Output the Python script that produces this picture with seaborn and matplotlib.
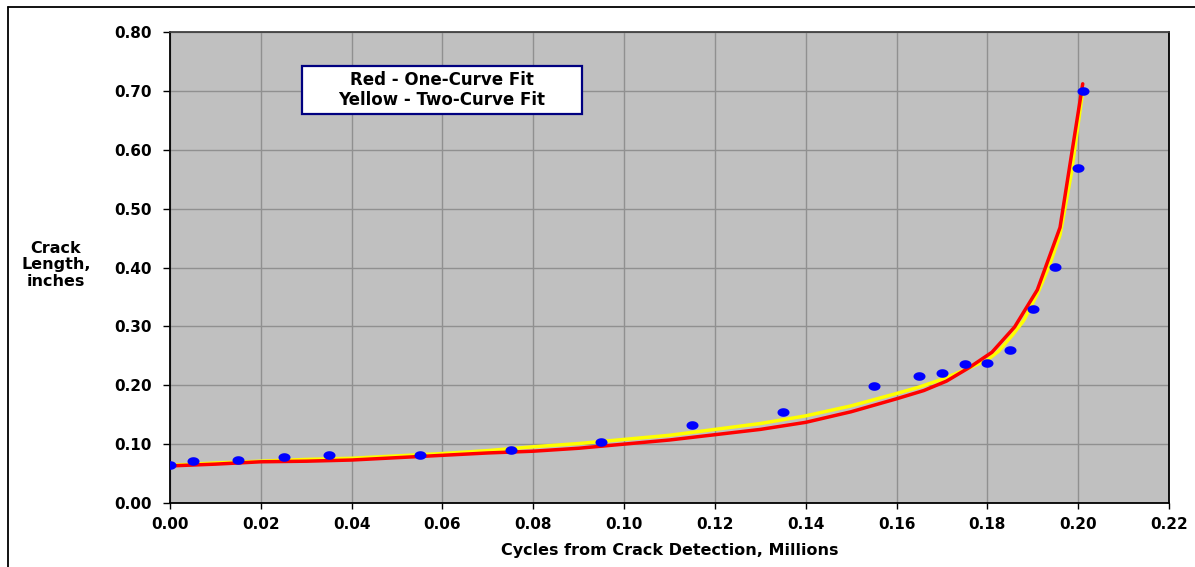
import numpy as np
import pandas as pd
import seaborn as sns
import matplotlib
matplotlib.use("Agg")
import matplotlib.pyplot as plt
from matplotlib.path import Path
from matplotlib.lines import Line2D
from matplotlib.patches import Rectangle

# ---- data ----
obs_cycles = [0.000, 0.005, 0.015, 0.025, 0.035, 0.055, 0.075, 0.095, 0.115, 0.135,
              0.155, 0.165, 0.170, 0.175, 0.180, 0.185, 0.190, 0.195, 0.200, 0.201]
obs_length = [0.064, 0.071, 0.073, 0.078, 0.081, 0.081, 0.090, 0.104, 0.133, 0.155,
              0.198, 0.216, 0.220, 0.236, 0.238, 0.260, 0.330, 0.401, 0.569, 0.700]

red_cycles = [0.000, 0.010, 0.020, 0.030, 0.040, 0.050, 0.060, 0.070, 0.080, 0.090,
              0.100, 0.110, 0.120, 0.130, 0.140, 0.150, 0.160, 0.166, 0.171, 0.176,
              0.181, 0.186, 0.191, 0.196, 0.201]
red_length = [0.063, 0.066, 0.070, 0.071, 0.073, 0.077, 0.081, 0.085, 0.088, 0.093,
              0.100, 0.107, 0.116, 0.125, 0.137, 0.155, 0.177, 0.191, 0.207, 0.230,
              0.256, 0.299, 0.362, 0.468, 0.712]

yel_cycles = [0.000, 0.010, 0.020, 0.030, 0.040, 0.050, 0.060, 0.070, 0.080, 0.090,
              0.100, 0.110, 0.120, 0.130, 0.140, 0.150, 0.160, 0.165, 0.170, 0.175,
              0.180, 0.1825, 0.1855, 0.188, 0.191, 0.1935, 0.196, 0.1985, 0.201]
yel_length = [0.064, 0.068, 0.071, 0.074, 0.076, 0.080, 0.084, 0.089, 0.0955, 0.101,
              0.108, 0.115, 0.125, 0.135, 0.148, 0.165, 0.186, 0.197, 0.210, 0.226,
              0.243, 0.258, 0.285, 0.310, 0.355, 0.400, 0.455, 0.560, 0.700]

x_ticks = [0.00, 0.02, 0.04, 0.06, 0.08, 0.10, 0.12, 0.14, 0.16, 0.18, 0.20, 0.22]
y_ticks = [0.00, 0.10, 0.20, 0.30, 0.40, 0.50, 0.60, 0.70, 0.80]

legend_lines = ["Red - One-Curve Fit", "Yellow - Two-Curve Fit"]
x_title = "Cycles from Crack Detection, Millions"
y_title = "Crack\nLength,\ninches"

# ---- style ----
sns.set_theme(style="white")
plt.rcParams['font.family'] = ['DejaVu Sans']
plt.rcParams['font.weight'] = 'bold'
plt.rcParams['text.color'] = 'black'
plt.rcParams['xtick.color'] = 'black'
plt.rcParams['ytick.color'] = 'black'
plt.rcParams['axes.labelcolor'] = 'black'
FS = 11

W, H = 1195, 567
fig = plt.figure(figsize=(W / 100, H / 100), dpi=100)
fig.patch.set_facecolor("white")
ax = fig.add_axes([170 / W, 1 - 503 / H, (1169 - 170) / W, (503 - 32) / H])
ax.set_facecolor("#C0C0C0")

df_red = pd.DataFrame({"x": red_cycles, "y": red_length})
df_yel = pd.DataFrame({"x": yel_cycles, "y": yel_length})
df_obs = pd.DataFrame({"x": obs_cycles, "y": obs_length})

sns.lineplot(data=df_yel, x="x", y="y", ax=ax, color="#FFFF00", lw=2.5,
             sort=False, estimator=None, zorder=3)
sns.lineplot(data=df_red, x="x", y="y", ax=ax, color="#FF0000", lw=2.5,
             sort=False, estimator=None, zorder=4)

t = np.linspace(0, 2 * np.pi, 40)
ellipse = Path(np.column_stack([1.4 * np.cos(t), np.sin(t)]))
sns.scatterplot(data=df_obs, x="x", y="y", ax=ax, marker=ellipse, s=75,
                color="#0000FF", edgecolor="#0000FF", linewidth=0, zorder=5)

ax.set_xlim(0, 0.22)
ax.set_ylim(0, 0.80)
ax.set_xticks(x_ticks)
ax.set_yticks(y_ticks)
ax.set_xticklabels([f"{v:.2f}" for v in x_ticks], fontsize=FS, fontweight="bold")
ax.set_yticklabels([f"{v:.2f}" for v in y_ticks], fontsize=FS, fontweight="bold")
ax.grid(True, color="#909090", lw=1.0)
ax.set_axisbelow(True)
ax.tick_params(axis="y", direction="out", length=5, width=1, color="black",
               labelcolor="black", pad=8, left=True)
ax.tick_params(axis="x", direction="out", length=4, width=1, color="black",
               labelcolor="black", pad=6, bottom=True)
for side in ["left", "bottom", "right", "top"]:
    ax.spines[side].set_visible(True)
    ax.spines[side].set_color("black")
    ax.spines[side].set_linewidth(1.3)
ax.spines["top"].set_color("#404040")

ax.set_xlabel(x_title, fontsize=11.5, fontweight="bold", labelpad=8, color="black")
ax.set_ylabel("")

fig.text(56 / W, 1 - 265 / H, y_title, ha="center", va="center", color="black",
         multialignment="center", fontsize=11.5, fontweight="bold", linespacing=1.15)

# legend-like text box (pixel-sized box 302..582 x 66..114)
box = Rectangle((302 / W, 1 - 114 / H), 280 / W, 48 / H, transform=fig.transFigure,
                facecolor="white", edgecolor="#000080", linewidth=1.6, zorder=6)
ax.add_artist(box)
box.set_clip_on(False)
fig.text(442 / W, 1 - 90 / H, "\n".join(legend_lines), ha="center", va="center",
         multialignment="center", fontsize=12, fontweight="bold", linespacing=1.1,
         color="black", zorder=7)

# outer frame (left and top edges)
fig.add_artist(Line2D([8 / W, 8 / W], [0, 1 - 7 / H], transform=fig.transFigure,
                      color="black", lw=1.3))
fig.add_artist(Line2D([8 / W, 1], [1 - 7 / H, 1 - 7 / H], transform=fig.transFigure,
                      color="black", lw=1.3))

fig.savefig("out.png", dpi=100)
